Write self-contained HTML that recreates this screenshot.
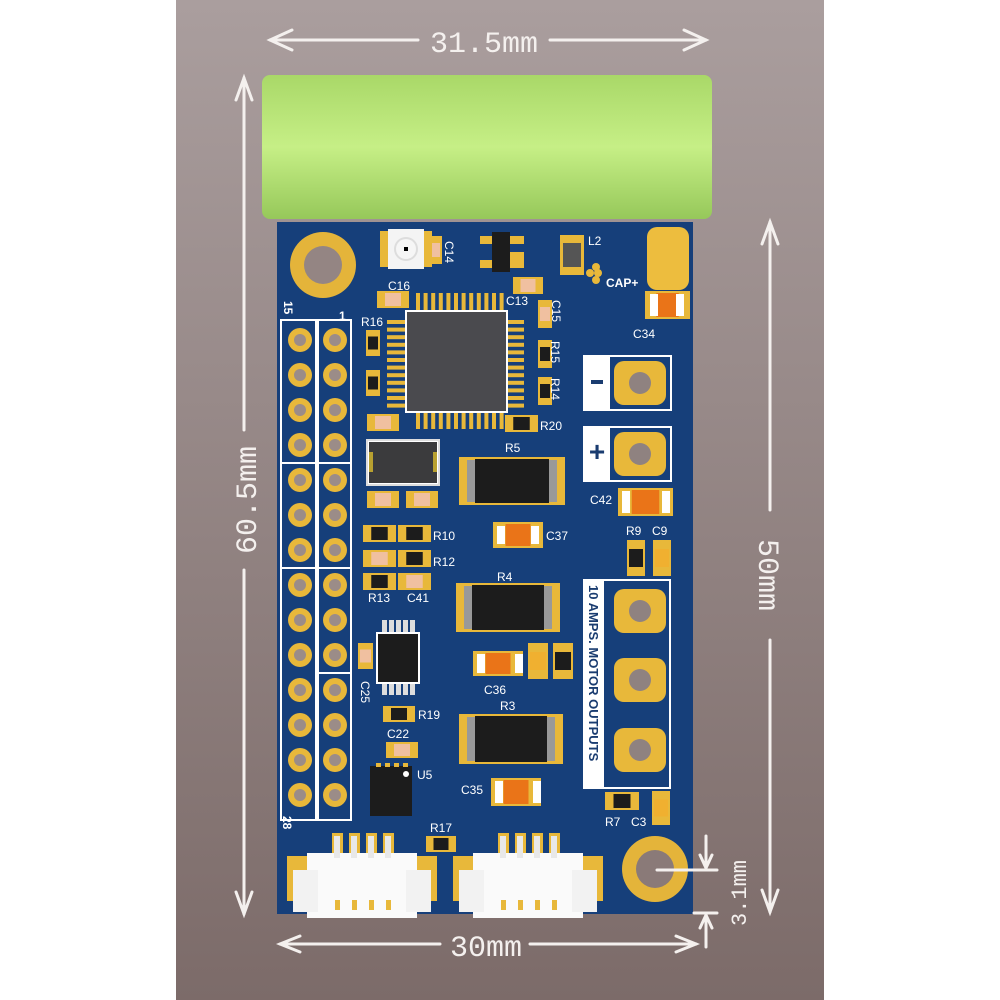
<!DOCTYPE html>
<html><head><meta charset="utf-8">
<style>
html,body{margin:0;padding:0;background:#fff;}
svg{display:block;}
text{font-family:"Liberation Sans",sans-serif;}
text.m{font-family:"Liberation Mono",monospace;}
</style></head>
<body>
<svg id="s" width="1000" height="1000" viewBox="0 0 1000 1000" xmlns="http://www.w3.org/2000/svg">
<defs>
<linearGradient id="bg" x1="0" y1="0" x2="0" y2="1">
<stop offset="0" stop-color="#aa9e9e"/><stop offset="1" stop-color="#7c6b69"/>
</linearGradient>
<linearGradient id="bat" x1="0" y1="0" x2="0" y2="1">
<stop offset="0" stop-color="#a9d868"/><stop offset="0.5" stop-color="#c6ef86"/><stop offset="1" stop-color="#96c85a"/>
</linearGradient>
</defs>
<rect x="0" y="0" width="1000" height="1000" fill="#fff"/>
<rect x="176" y="0" width="648" height="1000" fill="url(#bg)"/>
<rect x="262" y="75" width="450" height="144" rx="8" fill="url(#bat)"/>
<rect x="277" y="222" width="416" height="692" fill="#163f7a"/>
<g id="g"></g>
<circle cx="323" cy="265" r="33" fill="#e4b43a"/><circle cx="323" cy="265" r="19" fill="#948583"/>
<circle cx="655" cy="869" r="33" fill="#e4b43a"/><circle cx="655" cy="869" r="19" fill="#8a7a78"/>
<g fill="none" stroke="#fff" stroke-width="2">
<rect x="281" y="320" width="35" height="500"/>
<rect x="318" y="320" width="33" height="500"/>
<line x1="281" y1="463" x2="351" y2="463"/><line x1="281" y1="568" x2="351" y2="568"/><line x1="318" y1="673" x2="351" y2="673"/>
<rect x="584" y="356" width="87" height="54"/>
<rect x="584" y="427" width="87" height="54"/>
<rect x="584" y="580" width="86" height="208"/>
<rect x="367" y="440" width="72" height="45" stroke="#ddd"/>
</g>
<rect x="584" y="356" width="26" height="54" fill="#fff"/>
<rect x="584" y="427" width="26" height="54" fill="#fff"/>
<rect x="584" y="580" width="20" height="208" fill="#fff"/>
<rect x="591" y="380" width="12" height="4" fill="#1a3c70"/>
<text x="597" y="461" font-size="28" font-weight="bold" fill="#1a3c70" text-anchor="middle">+</text>
<text transform="translate(589,585) rotate(90)" font-size="13" font-weight="bold" fill="#1a3c70">10 AMPS. MOTOR OUTPUTS</text>
<rect x="647" y="227" width="42" height="63" rx="10" fill="#edbd3e"/>
<g fill="#fff" font-size="12">
<text x="588" y="245">L2</text><text x="606" y="287" font-weight="bold">CAP+</text>
<text x="633" y="338">C34</text><text x="388" y="290">C16</text><text x="506" y="305">C13</text>
<text x="361" y="326">R16</text><text x="540" y="430">R20</text>
<text x="505" y="452">R5</text><text x="590" y="504">C42</text><text x="546" y="540">C37</text>
<text x="626" y="535">R9</text><text x="652" y="535">C9</text>
<text x="433" y="540">R10</text><text x="433" y="566">R12</text>
<text x="368" y="602">R13</text><text x="407" y="602">C41</text><text x="497" y="581">R4</text>
<text x="484" y="694">C36</text><text x="418" y="719">R19</text><text x="387" y="738">C22</text>
<text x="417" y="779">U5</text><text x="500" y="710">R3</text><text x="461" y="794">C35</text>
<text x="430" y="832">R17</text><text x="605" y="826">R7</text><text x="631" y="826">C3</text>
<text transform="translate(445,241) rotate(90)">C14</text>
<text transform="translate(552,300) rotate(90)">C15</text>
<text transform="translate(551,341) rotate(90)">R15</text>
<text transform="translate(551,378) rotate(90)">R14</text>
<text transform="translate(361,681) rotate(90)">C25</text>
<text transform="translate(284,301) rotate(90)" font-weight="bold">15</text>
<text x="339" y="320" font-weight="bold">1</text>
<text transform="translate(283,816) rotate(90)" font-weight="bold">28</text>
</g>
<g stroke="#f4f0ee" stroke-width="3" fill="none" stroke-linecap="round">
<line x1="270" y1="40" x2="418" y2="40"/><line x1="550" y1="40" x2="706" y2="40"/>
<polyline points="292,30 270,40 292,50"/><polyline points="684,30 706,40 684,50"/>
<line x1="244" y1="78" x2="244" y2="430"/><line x1="244" y1="570" x2="244" y2="914"/>
<polyline points="236,100 244,78 252,100"/><polyline points="236,892 244,914 252,892"/>
<line x1="770" y1="222" x2="770" y2="510"/><line x1="770" y1="640" x2="770" y2="912"/>
<polyline points="762,244 770,222 778,244"/><polyline points="762,890 770,912 778,890"/>
<line x1="280" y1="944" x2="440" y2="944"/><line x1="530" y1="944" x2="696" y2="944"/>
<polyline points="300,936 280,944 300,952"/><polyline points="676,936 696,944 676,952"/>
<line x1="657" y1="870" x2="717" y2="870"/><line x1="694" y1="913" x2="717" y2="913"/>
<line x1="706" y1="836" x2="706" y2="868"/><polyline points="700,855 706,868 712,855"/>
<line x1="706" y1="915" x2="706" y2="947"/><polyline points="700,928 706,915 712,928"/>
</g>
<g fill="#f4f0ee">
<text class="m" x="484" y="52" font-size="30" text-anchor="middle">31.5mm</text>
<text class="m" transform="translate(256,500) rotate(-90)" font-size="30" text-anchor="middle">60.5mm</text>
<text class="m" transform="translate(759,575) rotate(90)" font-size="30" text-anchor="middle">50mm</text>
<text class="m" x="486" y="956" font-size="30" text-anchor="middle">30mm</text>
<text class="m" transform="translate(746,893) rotate(-90)" font-size="22" text-anchor="middle">3.1mm</text>
</g>
</svg>
<script>
var g=document.getElementById('g'),NS='http://www.w3.org/2000/svg';
function R(x,y,w,h,f,rx){var e=document.createElementNS(NS,'rect');e.setAttribute('x',x);e.setAttribute('y',y);e.setAttribute('width',w);e.setAttribute('height',h);e.setAttribute('fill',f);if(rx)e.setAttribute('rx',rx);g.appendChild(e);}
function C(x,y,r,f){var e=document.createElementNS(NS,'circle');e.setAttribute('cx',x);e.setAttribute('cy',y);e.setAttribute('r',r);e.setAttribute('fill',f);g.appendChild(e);}
var G='#e8b83a';
for(var i=0;i<14;i++){var y=340+i*35;[300,335].forEach(function(x){C(x,y,12,G);C(x,y,6,'#9b8c88');});}
function chipH(x,y,w,h,body){R(x,y,w,h,G);R(x+w*0.25,y+2,w*0.5,h-4,body);}
function chipV(x,y,w,h,body){R(x,y,w,h,G);R(x+2,y+h*0.25,w-4,h*0.5,body);}
var BK='#1c1c1c',TN='#f0c0a0',OR='#ea7418';
for(var i=0;i<12;i++){R(416+i*7.6,293,4,18,G);R(416+i*7.6,411,4,18,G);R(387,320+i*7.6,18,4,G);R(506,320+i*7.6,18,4,G);}
R(405,310,103,103,'#fff');R(407,312,99,99,'#4a4a4e');
chipH(377,291,32,17,TN);chipV(366,330,14,26,BK);chipV(366,370,14,26,BK);chipH(367,414,32,17,TN);
chipH(505,415,33,17,BK);chipH(513,277,30,17,TN);chipV(538,300,14,28,TN);chipV(538,340,14,28,BK);chipV(538,377,14,28,BK);
R(380,231,52,36,G);R(388,229,36,40,'#f4f4f4');C(406,249,12,'#ddd');C(406,249,10,'#f6f6f6');R(404,247,4,4,'#000');
chipV(430,236,12,28,TN);
R(480,236,44,8,G);R(480,260,44,8,G);R(500,252,24,8,G);R(492,232,18,40,BK);
R(560,235,24,40,G);R(563,243,18,24,'#555');
C(596,267,4,G);C(590,273,4,G);C(598,273,4,G);C(596,280,4,G);
chipH(645,291,45,28,OR);R(650,294,8,22,'#fff');R(676,294,8,22,'#fff');
[[640,383],[640,454],[640,611],[640,680],[640,750]].forEach(function(p){R(p[0]-26,p[1]-22,52,44,G,10);C(p[0],p[1],11,'#8f8280');});
R(367,440,72,45,'#fff');R(369,442,68,41,'#3b3b3d');R(369,452,4,20,'#b8a030');R(433,452,4,20,'#b8a030');
chipH(367,491,32,17,TN);chipH(406,491,32,17,TN);
function big(x,y,w,h){R(x,y,w,h,G);R(x+8,y+3,8,h-6,'#999');R(x+w-16,y+3,8,h-6,'#999');R(x+16,y+2,w-32,h-4,BK);}
big(459,457,106,48);big(456,583,104,49);big(459,714,104,50);
chipH(493,522,50,26,OR);R(497,526,8,18,'#fff');R(531,526,8,18,'#fff');
chipH(618,488,55,28,OR);R(622,491,8,22,'#fff');R(662,491,8,22,'#fff');
chipV(627,540,18,36,BK);chipV(653,540,18,36,'#f0b030');
chipH(363,525,33,17,BK);chipH(398,525,33,17,BK);chipH(363,550,33,17,TN);chipH(398,550,33,17,BK);
chipH(363,573,33,17,BK);chipH(398,573,33,17,TN);
for(var i=0;i<5;i++){R(382+i*7,620,5,12,'#ddd');R(382+i*7,683,5,12,'#ddd');}
R(376,632,44,52,'#fff');R(378,634,40,48,BK);
chipV(358,643,15,26,TN);
chipH(473,651,50,25,OR);R(477,654,8,19,'#fff');R(515,654,8,19,'#fff');
chipV(528,643,20,36,'#f0b030');chipV(553,643,20,36,BK);
chipH(383,706,32,16,BK);chipH(386,742,32,16,TN);
R(370,766,42,50,BK);C(406,774,3,'#fff');for(var i=0;i<4;i++)R(376+i*9,763,5,4,G);
chipH(491,778,50,28,OR);R(495,781,8,22,'#fff');R(533,781,8,22,'#fff');
chipH(605,792,34,18,BK);chipV(652,791,18,34,'#f0b030');
chipH(426,836,30,16,BK);
function jst(x){R(x,856,150,45,G);for(var i=0;i<4;i++)R(x+45+i*17,833,11,30,G);R(x+20,853,110,65,'#fafafa');R(x+6,870,25,42,'#f2f2f2');R(x+119,870,25,42,'#f2f2f2');for(var i=0;i<4;i++){R(x+47+i*17,836,6,22,'#e8e8e8');R(x+48+i*17,900,5,10,G);}}
jst(287);jst(453);
</script>
</body></html>
